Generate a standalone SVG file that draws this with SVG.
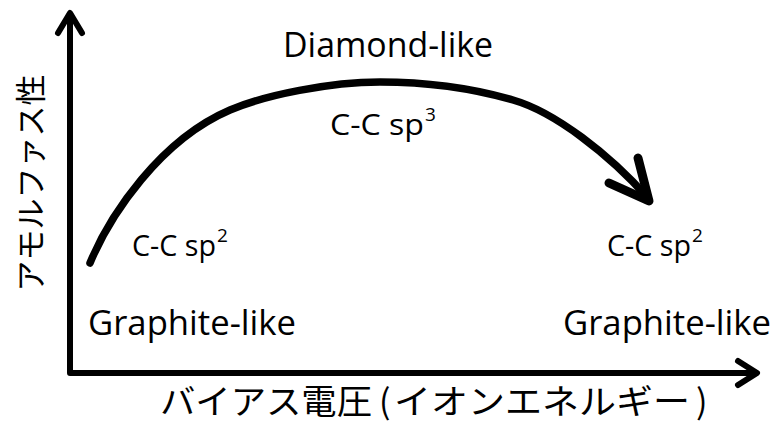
<svg xmlns="http://www.w3.org/2000/svg" width="774" height="423" viewBox="0 0 774 423">
<style>
.ax{fill:none;stroke:#000;stroke-width:6;stroke-linecap:round;stroke-linejoin:round}
.cv{fill:none;stroke:#000;stroke-width:7.5;stroke-linecap:round;stroke-linejoin:round}
.lat{font-family:"Open Sans","Liberation Sans",sans-serif;fill:#000}
.jp{font-family:"Noto Sans CJK JP","Noto Sans CJK SC",sans-serif;fill:#000}
</style>
<rect width="774" height="423" fill="#fff"/>
<g id="connectors">
<g id="axes">
<polyline class="ax" points="70,14 70,373 756,373" style="stroke-linecap:butt"/>
<polyline class="ax" points="58,33 70,13 82,33"/>
<polyline class="ax" points="738,361 757,373 738,385"/>
</g>
<g id="curve">
<path class="cv" d="M90,263 C110,215 160,140 230,110 C265,95 330,82 380,82 C430,82 475,89 513,100 C555,112 610,155 648,198"/>
<polyline class="cv" points="638,158 649,201 609,183" style="stroke-width:9"/>
</g>
</g>
<g id="diamond">
<text class="lat" x="388" y="57" font-size="34" text-anchor="middle" textLength="210" lengthAdjust="spacingAndGlyphs">Diamond-like</text>
<text class="lat" x="330" y="135" font-size="29" textLength="94" lengthAdjust="spacingAndGlyphs">C-C  sp</text><text class="lat" x="425" y="121" font-size="19">3</text>
</g>
<g id="left">
<text class="lat" x="132" y="256" font-size="29" textLength="84" lengthAdjust="spacingAndGlyphs">C-C sp</text><text class="lat" x="217" y="242" font-size="19">2</text>
<text class="lat" x="88" y="335" font-size="34" textLength="208" lengthAdjust="spacingAndGlyphs">Graphite-like</text>
</g>
<g id="right">
<text class="lat" x="607" y="256" font-size="29" textLength="84" lengthAdjust="spacingAndGlyphs">C-C sp</text><text class="lat" x="692" y="242" font-size="19">2</text>
<text class="lat" x="563" y="335" font-size="34" textLength="208" lengthAdjust="spacingAndGlyphs">Graphite-like</text>
</g>
<g id="ylabel">
<text class="jp" transform="translate(42,183) rotate(-90)" font-size="31" text-anchor="middle">アモルファス性</text>
</g>
<g id="xlabel">
<text class="jp" font-size="34" y="414"><tspan x="160" textLength="212" lengthAdjust="spacingAndGlyphs">バイアス電圧</tspan><tspan x="379">(</tspan><tspan x="394" textLength="296" lengthAdjust="spacingAndGlyphs">イオンエネルギー</tspan><tspan x="696">)</tspan></text>
</g>
</svg>
